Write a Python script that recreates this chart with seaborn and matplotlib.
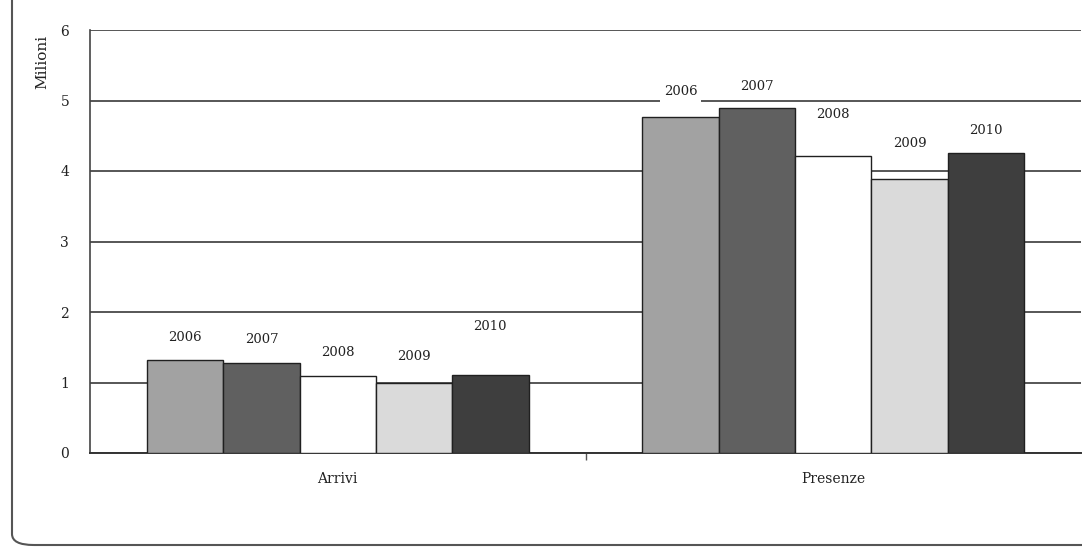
import matplotlib
matplotlib.use("Agg")
import matplotlib.pyplot as plt
from matplotlib.patches import FancyBboxPatch
import seaborn as sns
import pandas as pd

categories = ["Arrivi", "Presenze"]
years = ["2006", "2007", "2008", "2009", "2010"]
arrivi = [1.32, 1.28, 1.09, 0.99, 1.10]
presenze = [4.77, 4.89, 4.21, 3.88, 4.26]
yticks = [0, 1, 2, 3, 4, 5, 6]

colors = ["#a2a2a2", "#606060", "#ffffff", "#dadada", "#3e3e3e"]
# label offsets above bar tops (points), per category then per year
label_offsets = [[16, 17, 17, 19, 35], [18, 16, 30, 26, 16]]

rows = []
for cat, vals in zip(categories, [arrivi, presenze]):
    for y, v in zip(years, vals):
        rows.append({"cat": cat, "year": y, "val": v})
df = pd.DataFrame(rows)

sns.set_theme(style="white")
plt.rcParams["font.family"] = ["DejaVu Serif"]

fig = plt.figure(figsize=(10.82, 5.51), dpi=100)
fig.patch.set_facecolor("white")
ax = fig.add_axes([90 / 1082, 1 - 453 / 551, (1081 - 90) / 1082, (453 - 30) / 551])

sns.barplot(data=df, x="cat", y="val", hue="year", order=categories, hue_order=years,
            palette=colors, width=0.77, gap=0, edgecolor="#202020", linewidth=1.0,
            legend=False, ax=ax, zorder=3)

ax.set_xlim(-0.5, 1.5)
ax.set_ylim(0, 6)
ax.set_yticks(yticks)
ax.set_yticklabels([str(t) for t in yticks], fontsize=10, color="#222222")
ax.yaxis.grid(True, color="#3a3a3a", linewidth=1.2, zorder=0)
ax.set_axisbelow(True)
ax.tick_params(axis="y", length=5, color="#555555", width=1, pad=10)
ax.set_xticks([0, 1])
ax.set_xticklabels(categories, fontsize=10, color="#222222")
ax.set_xticks([0.5], minor=True)
ax.tick_params(axis="x", which="major", length=0, pad=14)
ax.tick_params(axis="x", which="minor", length=5, color="#555555", bottom=True)
ax.set_xlabel("")
ax.set_ylabel("")
for s in ["top", "right"]:
    ax.spines[s].set_visible(False)
ax.spines["left"].set_color("#444444")
ax.spines["bottom"].set_color("#333333")
ax.spines["left"].set_linewidth(1.2)
ax.spines["bottom"].set_linewidth(1.4)

fig.text(42 / 1082, 1 - 62 / 551, "Milioni", rotation=90, ha="center", va="center",
         fontsize=11, color="#222222")

for ci, cont in enumerate(ax.containers):
    for bi, bar in enumerate(cont):
        off = label_offsets[bi][ci]
        ax.annotate(years[ci], (bar.get_x() + bar.get_width() / 2, bar.get_height()),
                    xytext=(0, off), textcoords="offset points", ha="center", va="center",
                    fontsize=9.5, color="#222222", zorder=5,
                    bbox=dict(boxstyle="square,pad=0.3", fc="white", ec="none"))

frame = FancyBboxPatch((12 / 1082, 6 / 551), 1.2, 1.2,
                       boxstyle="round,pad=0,rounding_size=0.02",
                       transform=fig.transFigure, fill=False, ec="#555555", lw=1.5)
fig.patches.append(frame)

fig.savefig("out.png", dpi=100, facecolor="white")
